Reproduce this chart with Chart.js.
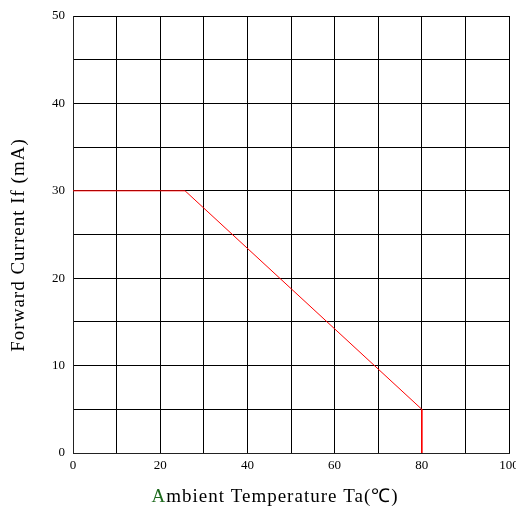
<!DOCTYPE html>
<html>
<head>
<meta charset="utf-8">
<script src="https://cdn.jsdelivr.net/npm/chart.js@4.4.1/dist/chart.umd.min.js"></script>
<style>
html,body{margin:0;padding:0;background:#fff;}
#wrap{width:516px;height:515px;position:relative;}
</style>
</head>
<body>
<div id="wrap"><canvas id="c" width="516" height="515"></canvas></div>
<script>
const temperature = [0, 25.7, 80, 80];
const forwardCurrent = [30, 30, 5, 0];
const xTicks = [0, 20, 40, 60, 80, 100];
const yTicks = [0, 10, 20, 30, 40, 50];
const xTitleFirst = 'A';
const xTitleRest = 'mbient Temperature Ta(\u2103)';
const yTitle = 'Forward Current If (mA)';

const FONT = '"Liberation Serif", "Times New Roman", serif';

const titlePlugin = {
  id: 'titles',
  afterDraw(chart) {
    const ctx = chart.ctx;
    ctx.save();
    ctx.font = '19px ' + FONT;
    try { ctx.letterSpacing = '1px'; } catch (e) {}
    ctx.textBaseline = 'middle';
    const w1 = ctx.measureText(xTitleFirst).width;
    const w2 = ctx.measureText(xTitleRest).width;
    const cx = 275;
    const sx = cx - (w1 + w2) / 2;
    ctx.textAlign = 'left';
    ctx.fillStyle = '#1e6b1e';
    ctx.fillText(xTitleFirst, sx, 497);
    ctx.fillStyle = '#000';
    ctx.fillText(xTitleRest, sx + w1, 497);
    ctx.translate(19, 245);
    ctx.rotate(-Math.PI / 2);
    const wy = ctx.measureText(yTitle).width;
    ctx.textAlign = 'left';
    ctx.fillText(yTitle, -wy / 2, 0);
    ctx.restore();
  }
};

new Chart(document.getElementById('c'), {
  type: 'scatter',
  data: {
    datasets: [{
      data: temperature.map((t, i) => ({x: t, y: forwardCurrent[i]})),
      showLine: true,
      borderColor: '#ff0000',
      borderWidth: 1,
      pointRadius: 0,
      fill: false,
      tension: 0
    }]
  },
  options: {
    responsive: false,
    animation: false,
    devicePixelRatio: 1,
    layout: {padding: {left: 0, right: 7, top: 16, bottom: 0}},
    plugins: {legend: {display: false}, tooltip: {enabled: false}},
    scales: {
      x: {
        type: 'linear', min: 0, max: 100,
        afterBuildTicks(s) {
          const t = [];
          for (let v = 0; v <= 100; v += 10) t.push({value: v});
          s.ticks = t;
        },
        afterFit(s) { s.height = 62; s.paddingLeft = 0; s.paddingRight = 0; },
        ticks: {
          color: '#000', font: {family: FONT, size: 13}, padding: 5, maxRotation: 0, autoSkip: false,
          callback: (v) => xTicks.includes(v) ? String(v) : ''
        },
        grid: {color: '#000', lineWidth: 1, drawTicks: false},
        border: {color: '#222', width: 1},
      },
      y: {
        type: 'linear', min: 0, max: 50,
        afterBuildTicks(s) {
          const t = [];
          for (let v = 0; v <= 50; v += 5) t.push({value: v});
          s.ticks = t;
        },
        afterFit(s) { s.width = 73; s.paddingTop = 0; s.paddingBottom = 0; },
        ticks: {
          color: '#000', font: {family: FONT, size: 13}, padding: 8, autoSkip: false,
          callback: (v) => yTicks.includes(v) ? String(v) : ''
        },
        grid: {color: '#000', lineWidth: 1, drawTicks: false},
        border: {color: '#222', width: 1},
      }
    }
  },
  plugins: [titlePlugin]
});
</script>
</body>
</html>
